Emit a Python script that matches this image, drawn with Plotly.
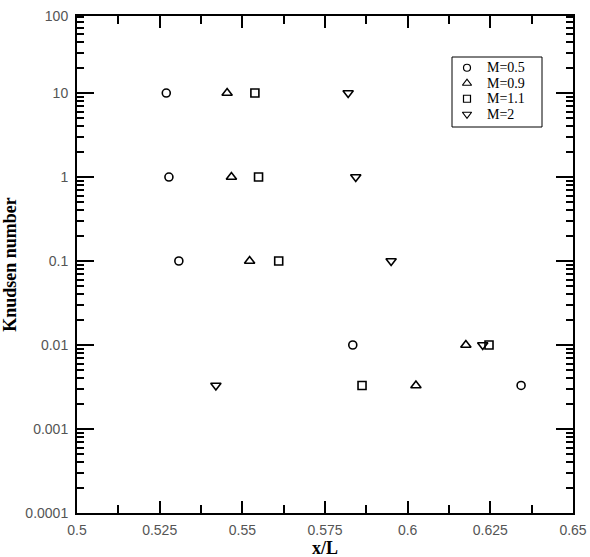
import plotly.graph_objects as go

kn = [10, 1, 0.1, 0.01, 0.0033]
x_m05 = [0.5270, 0.5278, 0.5308, 0.5834, 0.6343]
x_m09 = [0.5454, 0.5467, 0.5522, 0.6176, 0.6025]
x_m11 = [0.5538, 0.5549, 0.5610, 0.6246, 0.5862]
x_m2 = [0.5820, 0.5843, 0.5950, 0.6227, 0.5420]

names = ["M=0.5", "M=0.9", "M=1.1", "M=2"]
xs_all = [x_m05, x_m09, x_m11, x_m2]
symbols = ["circle-open", "triangle-up-open", "square-open", "triangle-down-open"]
sizes = [8, 9, 8, 9]
legend_sizes = [7, 8, 7, 8]

xtickvals = [0.5, 0.525, 0.55, 0.575, 0.6, 0.625, 0.65]
xticktext = ["0.5", "0.525", "0.55", "0.575", "0.6", "0.625", "0.65"]
# the reference's top edge sits a little below 100; its "100" label is drawn at that edge
y_top_log = 1.917
ytickvals = [0.0001, 0.001, 0.01, 0.1, 1, 10, 10 ** y_top_log]
yticktext = ["0.0001", "0.001", "0.01", "0.1", "1", "10", "100"]

W, H = 590, 557
L, R, T, B = 77, 573, 16, 513  # plot area in pixels
pw, ph = R - L, B - T


def px_x(p):
    return (p - L) / pw


def px_y(p):
    return (B - p) / ph


fig = go.Figure()
for name, xs, sym, sz in zip(names, xs_all, symbols, sizes):
    fig.add_trace(go.Scatter(
        x=xs, y=kn, mode="markers", name=name, showlegend=False,
        marker=dict(symbol=sym, size=sz, color="black", line=dict(width=1.6, color="black")),
        cliponaxis=False,
    ))

# custom legend: markers on a small inset axis, labels as annotations
idx = list(range(len(names)))
for i, (sym, sz) in enumerate(zip(symbols, legend_sizes)):
    fig.add_trace(go.Scatter(
        x=[0.5], y=[idx[i]], xaxis="x2", yaxis="y2", mode="markers", showlegend=False,
        hoverinfo="skip",
        marker=dict(symbol=sym, size=sz, color="black", line=dict(width=1.2, color="black")),
    ))

annotations = []
for i, name in enumerate(names):
    annotations.append(dict(
        x=px_x(485), xref="paper", y=idx[i], yref="y2", text=name, showarrow=False,
        xanchor="left", yanchor="middle",
        font=dict(family="Liberation Serif", size=14, color="black"),
    ))
# x-axis title
annotations.append(dict(
    x=0.5, xref="paper", y=px_y(548), yref="paper", text="<b>x/L</b>", showarrow=False,
    xanchor="center", yanchor="middle",
    font=dict(family="Liberation Serif", size=18, color="black"),
))

fig.update_layout(
    width=W, height=H,
    margin=dict(l=L, r=W - R, t=T, b=H - B, autoexpand=False),
    paper_bgcolor="white", plot_bgcolor="white",
    showlegend=False,
    annotations=annotations,
    shapes=[dict(type="rect", xref="paper", yref="paper",
                 x0=px_x(452), x1=px_x(542), y0=px_y(127), y1=px_y(57),
                 line=dict(color="black", width=1), fillcolor="white", layer="below")],
    xaxis2=dict(domain=[px_x(460), px_x(474)], range=[0, 1], anchor="y2",
                visible=False, fixedrange=True),
    yaxis2=dict(domain=[px_y(122), px_y(60)], range=[3.5, -0.5], anchor="x2",
                visible=False, fixedrange=True),
)
fig.update_layout(xaxis=dict(
    range=[0.5, 0.65], tickvals=xtickvals, ticktext=xticktext, automargin=False,
    showgrid=False, zeroline=False,
    showline=True, linecolor="black", linewidth=2, mirror="ticks",
    ticks="inside", ticklen=12, tickwidth=2, tickcolor="black",
    minor=dict(dtick=0.0125, ticks="inside", ticklen=8, tickwidth=1.5, tickcolor="black", showgrid=False),
    tickfont=dict(family="Liberation Sans", size=14, color="#555555"),
    ticklabelstandoff=3,
))
fig.update_layout(yaxis=dict(
    type="log", range=[-4, y_top_log], tickvals=ytickvals, ticktext=yticktext, automargin=False,
    showgrid=False, zeroline=False,
    showline=True, linecolor="black", linewidth=2, mirror="ticks",
    ticks="inside", ticklen=17, tickwidth=2, tickcolor="black",
    minor=dict(dtick="D1", ticks="inside", ticklen=7, tickwidth=1.5, tickcolor="black", showgrid=False),
    tickfont=dict(family="Liberation Sans", size=14, color="#555555"),
    ticklabelstandoff=4,
    title=dict(text="Knudsen number", font=dict(family="Liberation Serif", size=18, color="black", weight="bold"), standoff=6),
))

fig.write_html("out.html")
